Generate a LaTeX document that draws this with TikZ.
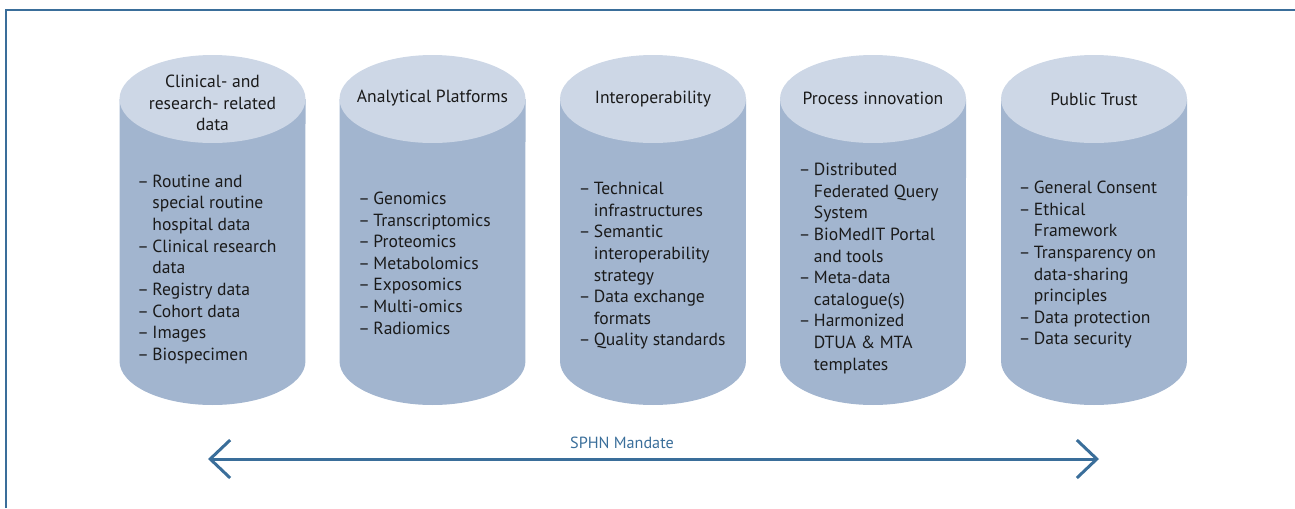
\documentclass[tikz,border=0pt]{standalone}
\usepackage{fontspec}
\setmainfont{PT Sans}
\usetikzlibrary{arrows.meta}
\definecolor{cyltop}{RGB}{205,215,230}
\definecolor{cylbody}{RGB}{162,181,207}
\definecolor{sphnblue}{RGB}{58,110,154}
\definecolor{ink}{RGB}{26,26,26}
\newcommand{\bodyfont}{\fontsize{10}{12.3}\selectfont}

\begin{document}
\begin{tikzpicture}[x=0.02cm, y=-0.02cm,
  cyltitle/.style={align=center, text=ink, font=\bodyfont, inner sep=0pt},
  cyllist/.style={anchor=west, text=ink, font=\bodyfont, inner sep=0pt},
  mandate/.style={sphnblue, line width=1.7pt, {Straight Barb[length=4mm,width=7.6mm]}-{Straight Barb[length=4mm,width=7.6mm]}}]
\useasboundingbox (0,0) rectangle (1295,508);
\draw[sphnblue, line width=0.9pt] (6,508) -- (6,10) -- (1295,10);
% cylinders
\foreach \cx in {212.5,432.5,653,873,1094}{
  \fill[cylbody] (\cx-93,99) -- (\cx-93,361) arc[start angle=180, end angle=360, x radius=1.86cm, y radius=0.88cm] -- (\cx+93,99) -- cycle;
  \fill[cyltop] (\cx,99) ellipse[x radius=1.86cm, y radius=0.88cm];
}
\node[cyltitle] (tClin) at (212.5,103) {Clinical- and\\research- related\\data};
\node[cyltitle] (tAna) at (432.5,98.5) {Analytical Platforms};
\node[cyltitle] (tInter) at (653,99.5) {Interoperability};
\node[cyltitle] (tProc) at (873,98.5) {Process innovation};
\node[cyltitle] (tTrust) at (1094,99) {Public Trust};
\node[cyllist] (lClin) at (137,269.5) {\begin{tabular}{@{}l@{\hspace{2pt}}l@{}}
–&Routine and\\&special routine\\&hospital data\\–&Clinical research\\&data\\–&Registry data\\–&Cohort data\\–&Images\\–&Biospecimen\end{tabular}};
\node[cyllist] (lAna) at (358,265) {\begin{tabular}{@{}l@{\hspace{2pt}}l@{}}
–&Genomics\\–&Transcriptomics\\–&Proteomics\\–&Metabolomics\\–&Exposomics\\–&Multi-omics\\–&Radiomics\end{tabular}};
\node[cyllist] (lInter) at (578.5,266) {\begin{tabular}{@{}l@{\hspace{2pt}}l@{}}
–&Technical\\&infrastructures\\–&Semantic\\&interoperability\\&strategy\\–&Data exchange\\&formats\\–&Quality standards\end{tabular}};
\node[cyllist] (lProc) at (798.5,268.5) {\begin{tabular}{@{}l@{\hspace{2pt}}l@{}}
–&Distributed\\&Federated Query\\&System\\–&BioMedIT Portal\\&and tools\\–&Meta-data\\&catalogue(s)\\–&Harmonized\\&DTUA \& MTA\\&templates\end{tabular}};
\node[cyllist] (lTrust) at (1018.5,265) {\begin{tabular}{@{}l@{\hspace{2pt}}l@{}}
–&General Consent\\–&Ethical\\&Framework\\–&Transparency on\\&data-sharing\\&principles\\–&Data protection\\–&Data security\end{tabular}};
% mandate arrow
\coordinate (mandL) at (208,459);
\coordinate (mandR) at (1099,459);
\draw[mandate] (mandL) -- (mandR);
\node[text=sphnblue, font=\fontsize{9.2}{11}\selectfont, inner sep=0pt] (mandLbl) at (622,443) {SPHN Mandate};
\end{tikzpicture}
\end{document}
